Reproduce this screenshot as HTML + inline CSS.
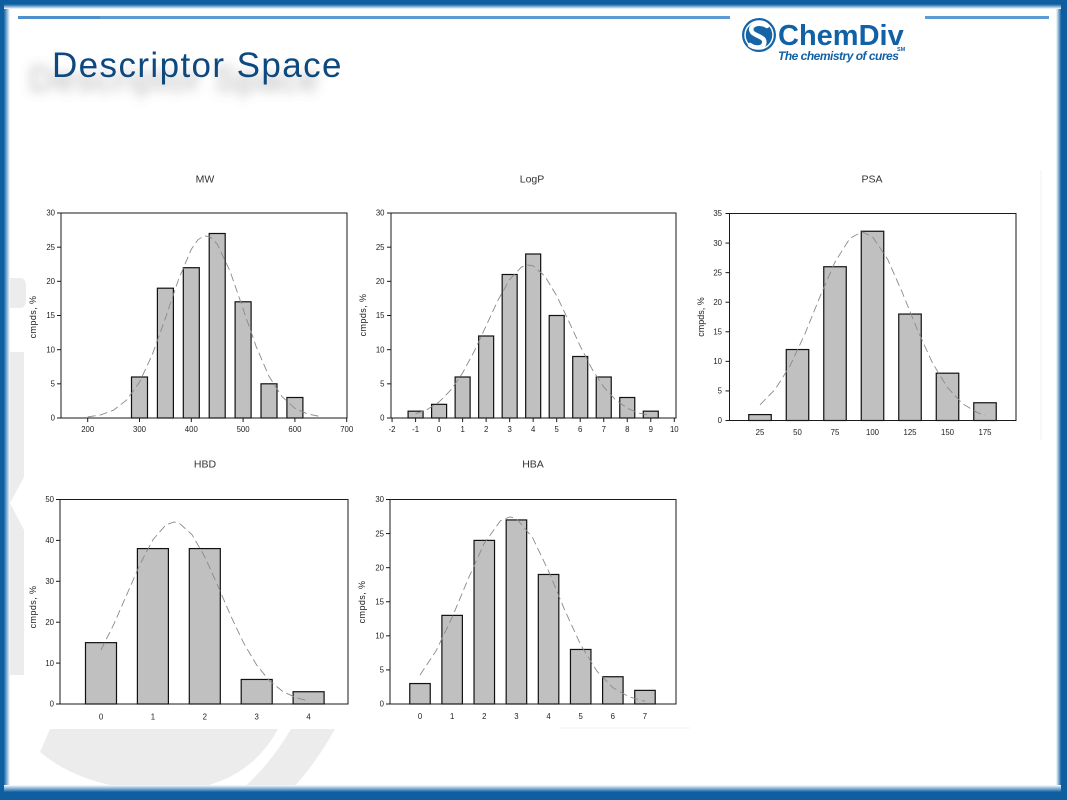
<!DOCTYPE html>
<html>
<head>
<meta charset="utf-8">
<style>
  html,body{margin:0;padding:0;background:#fff;}
  body{width:1067px;height:800px;overflow:hidden;}
  svg{display:block;}
  .ax{fill:none;stroke:#1a1a1a;stroke-width:1;}
  .tk{stroke:#1a1a1a;stroke-width:1;}
  .bar{fill:#c0c0c0;stroke:#111;stroke-width:1.2;}
  .fit{fill:none;stroke:#8a8a8a;stroke-width:0.9;stroke-dasharray:8 4;}
  .tl{font-family:"Liberation Sans",Arial,sans-serif;font-size:7.8px;fill:#222;}
  .ttl{font-family:"Liberation Sans",Arial,sans-serif;font-size:10.5px;fill:#333;text-anchor:middle;}
  .yl{font-family:"Liberation Sans",Arial,sans-serif;font-size:9px;fill:#222;text-anchor:middle;letter-spacing:0.4px;}
</style>
</head>
<body>
<svg width="1067" height="800" viewBox="0 0 1067 800" xmlns="http://www.w3.org/2000/svg">
  <defs>
    <linearGradient id="gL" x1="0" y1="0" x2="1" y2="0">
      <stop offset="0" stop-color="#0f5e9f"/>
      <stop offset="0.4" stop-color="#1769ab"/>
      <stop offset="1" stop-color="#ffffff"/>
    </linearGradient>
    <linearGradient id="gR" x1="1" y1="0" x2="0" y2="0">
      <stop offset="0" stop-color="#0f5e9f"/>
      <stop offset="0.55" stop-color="#1769ab"/>
      <stop offset="1" stop-color="#ffffff"/>
    </linearGradient>
    <linearGradient id="gT" x1="0" y1="0" x2="0" y2="1">
      <stop offset="0" stop-color="#0f5e9f"/>
      <stop offset="0.5" stop-color="#1769ab"/>
      <stop offset="1" stop-color="#ffffff"/>
    </linearGradient>
    <linearGradient id="gB" x1="0" y1="1" x2="0" y2="0">
      <stop offset="0" stop-color="#0f5e9f"/>
      <stop offset="0.55" stop-color="#1769ab"/>
      <stop offset="1" stop-color="#ffffff"/>
    </linearGradient>
    <filter id="sh" x="-20%" y="-60%" width="140%" height="220%">
      <feGaussianBlur in="SourceAlpha" stdDeviation="5.5" result="b"/>
      <feOffset in="b" dx="-23" dy="14" result="o"/>
      <feFlood flood-color="#6a6a6a" flood-opacity="0.5"/>
      <feComposite in2="o" operator="in" result="s"/>
      <feMerge><feMergeNode in="s"/><feMergeNode in="SourceGraphic"/></feMerge>
    </filter>
  </defs>

  <!-- watermark shapes -->
  <g fill="#ececec">
    <path d="M8 278 H20 Q26 278 26 286 V300 Q26 308 20 308 H8 Z"/>
    <path d="M8 352 H24 V477 L10 503 L24 530 V675 H8 Z"/>
    <path d="M50 729 H278 Q245 790 165 791 Q85 790 40 752 Z"/>
    <path d="M291 729 H335 Q315 765 290 791 H240 Q270 765 291 729 Z"/>
  </g>
  <g stroke="#f0f0f0" stroke-width="1">
    <line x1="1041" y1="170" x2="1041" y2="440"/>
    <line x1="560" y1="728" x2="690" y2="728"/>
  </g>

  <!-- border -->
  <rect x="0" y="0" width="10" height="800" fill="url(#gL)"/>
  <rect x="1056" y="0" width="11" height="800" fill="url(#gR)"/>
  <rect x="0" y="0" width="1067" height="9" fill="url(#gT)"/>
  <rect x="0" y="785" width="1067" height="15" fill="url(#gB)"/>
  <rect x="0" y="0" width="4" height="800" fill="#0f5e9f"/>
  <rect x="1061" y="0" width="6" height="800" fill="#0f5e9f"/>
  <rect x="0" y="0" width="1067" height="4" fill="#0f5e9f"/>
  <rect x="0" y="792" width="1067" height="8" fill="#0f5e9f"/>

  <!-- header lines -->
  <rect x="18" y="16" width="712" height="3" fill="#5d9bd3"/>
  <rect x="18" y="16" width="82" height="3" fill="#4f8fcb"/>
  <rect x="925" y="16" width="124" height="3" fill="#5d9bd3"/>

  <!-- title -->
  <text x="52" y="77" font-family="'Liberation Sans',Arial,sans-serif" font-size="35" letter-spacing="1.4" fill="#0b4a7e" filter="url(#sh)">Descriptor Space</text>

  <!-- logo -->
  <circle cx="759" cy="35" r="17" fill="#1564a8"/>
  <circle cx="759" cy="35" r="14" fill="none" stroke="#fff" stroke-width="1.5"/>
  <path d="M767 26 C757 20 747 27 753 33 C758 37 766 37 764 44 C762 49 754 48 750 45" fill="none" stroke="#fff" stroke-width="4.5" stroke-linecap="round"/>
  <text x="778" y="45" font-family="'Liberation Sans',Arial,sans-serif" font-size="29" font-weight="bold" fill="#1161a6" letter-spacing="0">ChemDiv</text>
  <text x="778" y="60" font-family="'Liberation Sans',Arial,sans-serif" font-size="12" font-weight="bold" font-style="italic" fill="#1161a6" letter-spacing="-0.5">The chemistry of cures</text>
  <text x="897" y="51" font-family="'Liberation Sans',Arial,sans-serif" font-size="5.5" font-weight="bold" fill="#1161a6">SM</text>

  <!-- ===== MW ===== -->
  <text class="ttl" x="205" y="182.5">MW</text>
  <text class="yl" transform="translate(36,317) rotate(-90)">cmpds, %</text>
  <g class="bar">
    <rect x="131.5" y="377" width="16" height="41"/>
    <rect x="157.4" y="288.2" width="16" height="129.8"/>
    <rect x="183.3" y="267.7" width="16" height="150.3"/>
    <rect x="209.2" y="233.5" width="16" height="184.5"/>
    <rect x="235.1" y="301.8" width="16" height="116.2"/>
    <rect x="261" y="383.8" width="16" height="34.2"/>
    <rect x="286.9" y="397.5" width="16" height="20.5"/>
  </g>
  <polyline class="fit" points="87.7,416.9 100.65,414.9 113.6,410.1 126.55,400.1 139.5,382.1 152.45,354.2 165.4,318.2 178.35,280 191.3,249.2 197.8,239.9 204.25,235.6 210.7,237.2 217.2,244.1 230.15,271.4 243.1,308.9 256.05,346.3 269,376.3 281.95,396.6 294.9,408.3 307.85,414.1 320.8,416.6"/>
  <rect class="ax" x="61" y="213" width="286" height="205"/>
  <g class="tk">
    <line x1="57" y1="418" x2="61" y2="418"/><line x1="57" y1="383.83" x2="61" y2="383.83"/><line x1="57" y1="349.67" x2="61" y2="349.67"/><line x1="57" y1="315.5" x2="61" y2="315.5"/><line x1="57" y1="281.33" x2="61" y2="281.33"/><line x1="57" y1="247.17" x2="61" y2="247.17"/><line x1="57" y1="213" x2="61" y2="213"/>
    <line x1="87.7" y1="418" x2="87.7" y2="422"/><line x1="139.5" y1="418" x2="139.5" y2="422"/><line x1="191.3" y1="418" x2="191.3" y2="422"/><line x1="243.1" y1="418" x2="243.1" y2="422"/><line x1="294.9" y1="418" x2="294.9" y2="422"/><line x1="346.7" y1="418" x2="346.7" y2="422"/>
  </g>
  <g class="tl" text-anchor="end">
    <text x="55" y="420.7">0</text><text x="55" y="386.5">5</text><text x="55" y="352.4">10</text><text x="55" y="318.2">15</text><text x="55" y="284">20</text><text x="55" y="249.9">25</text><text x="55" y="215.7">30</text>
  </g>
  <g class="tl" text-anchor="middle">
    <text x="87.7" y="432">200</text><text x="139.5" y="432">300</text><text x="191.3" y="432">400</text><text x="243.1" y="432">500</text><text x="294.9" y="432">600</text><text x="346.7" y="432">700</text>
  </g>

  <!-- ===== LogP ===== -->
  <text class="ttl" x="532" y="182.5">LogP</text>
  <text class="yl" transform="translate(366,315) rotate(-90)">cmpds, %</text>
  <g class="bar">
    <rect x="408.08" y="411.17" width="15" height="6.83"/>
    <rect x="431.6" y="404.33" width="15" height="13.67"/>
    <rect x="455.12" y="377" width="15" height="41"/>
    <rect x="478.64" y="336" width="15" height="82"/>
    <rect x="502.16" y="274.5" width="15" height="143.5"/>
    <rect x="525.68" y="254" width="15" height="164"/>
    <rect x="549.2" y="315.5" width="15" height="102.5"/>
    <rect x="572.72" y="356.5" width="15" height="61.5"/>
    <rect x="596.24" y="377" width="15" height="41"/>
    <rect x="619.76" y="397.5" width="15" height="20.5"/>
    <rect x="643.28" y="411.17" width="15" height="6.83"/>
  </g>
  <polyline class="fit" points="415.58,413.8 427.34,409.46 439.1,401.94 450.86,390 462.62,372.97 474.38,350.97 486.14,325.69 497.9,300.4 509.66,279.5 521.42,267.06 527.3,264.9 533.18,265.9 544.94,276.2 556.7,295.8 568.46,320.5 580.22,346.05 591.98,368.9 603.74,387.05 615.5,399.9 627.26,408.2 639.02,413.1 650.78,415.7"/>
  <rect class="ax" x="391" y="213" width="285" height="205"/>
  <g class="tk">
    <line x1="387" y1="418" x2="391" y2="418"/><line x1="387" y1="383.83" x2="391" y2="383.83"/><line x1="387" y1="349.67" x2="391" y2="349.67"/><line x1="387" y1="315.5" x2="391" y2="315.5"/><line x1="387" y1="281.33" x2="391" y2="281.33"/><line x1="387" y1="247.17" x2="391" y2="247.17"/><line x1="387" y1="213" x2="391" y2="213"/>
    <line x1="392.06" y1="418" x2="392.06" y2="422"/><line x1="415.58" y1="418" x2="415.58" y2="422"/><line x1="439.1" y1="418" x2="439.1" y2="422"/><line x1="462.62" y1="418" x2="462.62" y2="422"/><line x1="486.14" y1="418" x2="486.14" y2="422"/><line x1="509.66" y1="418" x2="509.66" y2="422"/><line x1="533.18" y1="418" x2="533.18" y2="422"/><line x1="556.7" y1="418" x2="556.7" y2="422"/><line x1="580.22" y1="418" x2="580.22" y2="422"/><line x1="603.74" y1="418" x2="603.74" y2="422"/><line x1="627.26" y1="418" x2="627.26" y2="422"/><line x1="650.78" y1="418" x2="650.78" y2="422"/><line x1="674.3" y1="418" x2="674.3" y2="422"/>
  </g>
  <g class="tl" text-anchor="end">
    <text x="384.5" y="420.7">0</text><text x="384.5" y="386.5">5</text><text x="384.5" y="352.4">10</text><text x="384.5" y="318.2">15</text><text x="384.5" y="284">20</text><text x="384.5" y="249.9">25</text><text x="384.5" y="215.7">30</text>
  </g>
  <g class="tl" text-anchor="middle">
    <text x="392.06" y="432">-2</text><text x="415.58" y="432">-1</text><text x="439.1" y="432">0</text><text x="462.62" y="432">1</text><text x="486.14" y="432">2</text><text x="509.66" y="432">3</text><text x="533.18" y="432">4</text><text x="556.7" y="432">5</text><text x="580.22" y="432">6</text><text x="603.74" y="432">7</text><text x="627.26" y="432">8</text><text x="650.78" y="432">9</text><text x="674.3" y="432">10</text>
  </g>

  <!-- ===== PSA ===== -->
  <text class="ttl" x="872" y="182.5">PSA</text>
  <text class="yl" transform="translate(704,317) rotate(-90)" style="letter-spacing:0">cmpds, %</text>
  <g class="bar">
    <rect x="748.75" y="414.59" width="22.5" height="5.91"/>
    <rect x="786.25" y="349.53" width="22.5" height="70.97"/>
    <rect x="823.75" y="266.74" width="22.5" height="153.76"/>
    <rect x="861.25" y="231.25" width="22.5" height="189.25"/>
    <rect x="898.75" y="314.05" width="22.5" height="106.45"/>
    <rect x="936.25" y="373.19" width="22.5" height="47.31"/>
    <rect x="973.75" y="402.76" width="22.5" height="17.74"/>
  </g>
  <polyline class="fit" points="760,404.77 775,389.57 790,365.8 805,333.68 820,296.72 835,262 850,238.23 862,231.85 872.5,236.76 887.5,259 902.5,292.99 917.5,330.13 932.5,362.96 947.5,387.62 962.5,403.59 977.5,412.69 985,415.41"/>
  <rect class="ax" x="729.5" y="213.5" width="286.5" height="207"/>
  <g class="tk">
    <line x1="725.5" y1="420.5" x2="729.5" y2="420.5"/><line x1="725.5" y1="390.93" x2="729.5" y2="390.93"/><line x1="725.5" y1="361.36" x2="729.5" y2="361.36"/><line x1="725.5" y1="331.79" x2="729.5" y2="331.79"/><line x1="725.5" y1="302.21" x2="729.5" y2="302.21"/><line x1="725.5" y1="272.64" x2="729.5" y2="272.64"/><line x1="725.5" y1="243.07" x2="729.5" y2="243.07"/><line x1="725.5" y1="213.5" x2="729.5" y2="213.5"/>
  </g>
  <g class="tl" text-anchor="end">
    <text x="722" y="423.2">0</text><text x="722" y="393.6">5</text><text x="722" y="364.1">10</text><text x="722" y="334.5">15</text><text x="722" y="304.9">20</text><text x="722" y="275.3">25</text><text x="722" y="245.8">30</text><text x="722" y="216.2">35</text>
  </g>
  <g class="tl" text-anchor="middle">
    <text x="760" y="435">25</text><text x="797.5" y="435">50</text><text x="835" y="435">75</text><text x="872.5" y="435">100</text><text x="910" y="435">125</text><text x="947.5" y="435">150</text><text x="985" y="435">175</text>
  </g>

  <!-- ===== HBD ===== -->
  <text class="ttl" x="205" y="467.5">HBD</text>
  <text class="yl" transform="translate(36,607) rotate(-90)">cmpds, %</text>
  <g class="bar">
    <rect x="85.5" y="642.65" width="31" height="61.35"/>
    <rect x="137.4" y="548.58" width="31" height="155.42"/>
    <rect x="189.3" y="548.58" width="31" height="155.42"/>
    <rect x="241.2" y="679.46" width="31" height="24.54"/>
    <rect x="293.1" y="691.73" width="31" height="12.27"/>
  </g>
  <polyline class="fit" points="101,649.93 113.98,623.96 126.95,594.22 139.93,564.49 152.9,539.75 165.88,524.82 174.18,522 178.85,522.9 191.83,534.39 204.8,556.84 217.78,585.68 230.75,615.86 243.73,643.18 256.7,665.1 269.68,680.97 282.65,691.36 295.63,697.58 308.6,700.97"/>
  <rect class="ax" x="60" y="499.5" width="288" height="204.5"/>
  <g class="tk">
    <line x1="56" y1="704" x2="60" y2="704"/><line x1="56" y1="663.1" x2="60" y2="663.1"/><line x1="56" y1="622.2" x2="60" y2="622.2"/><line x1="56" y1="581.3" x2="60" y2="581.3"/><line x1="56" y1="540.4" x2="60" y2="540.4"/><line x1="56" y1="499.5" x2="60" y2="499.5"/>
  </g>
  <g class="tl" text-anchor="end">
    <text x="54" y="706.7">0</text><text x="54" y="665.8">10</text><text x="54" y="624.9">20</text><text x="54" y="584">30</text><text x="54" y="543.1">40</text><text x="54" y="502.2">50</text>
  </g>
  <g class="tl" text-anchor="middle">
    <text x="101" y="719.5">0</text><text x="152.9" y="719.5">1</text><text x="204.8" y="719.5">2</text><text x="256.7" y="719.5">3</text><text x="308.6" y="719.5">4</text>
  </g>

  <!-- ===== HBA ===== -->
  <text class="ttl" x="533" y="467.5">HBA</text>
  <text class="yl" transform="translate(365,602) rotate(-90)">cmpds, %</text>
  <g class="bar">
    <rect x="409.75" y="683.55" width="20.5" height="20.45"/>
    <rect x="441.89" y="615.38" width="20.5" height="88.62"/>
    <rect x="474.03" y="540.4" width="20.5" height="163.6"/>
    <rect x="506.17" y="519.94" width="20.5" height="184.06"/>
    <rect x="538.31" y="574.48" width="20.5" height="129.52"/>
    <rect x="570.45" y="649.46" width="20.5" height="54.54"/>
    <rect x="602.59" y="676.73" width="20.5" height="27.27"/>
    <rect x="634.73" y="690.37" width="20.5" height="13.63"/>
  </g>
  <polyline class="fit" points="420,675 436.07,650.83 452.14,617.42 468.21,578.77 484.28,543.32 500.35,520.83 510,516.87 516.42,518.64 532.49,537.46 548.56,571.14 564.63,609.86 580.7,644.83 596.77,670.94 612.84,687.64 628.91,696.77 644.98,701.2"/>
  <rect class="ax" x="390" y="499.5" width="286" height="204.5"/>
  <g class="tk">
    <line x1="386" y1="704" x2="390" y2="704"/><line x1="386" y1="669.92" x2="390" y2="669.92"/><line x1="386" y1="635.83" x2="390" y2="635.83"/><line x1="386" y1="601.75" x2="390" y2="601.75"/><line x1="386" y1="567.67" x2="390" y2="567.67"/><line x1="386" y1="533.58" x2="390" y2="533.58"/><line x1="386" y1="499.5" x2="390" y2="499.5"/>
  </g>
  <g class="tl" text-anchor="end">
    <text x="384" y="706.7">0</text><text x="384" y="672.6">5</text><text x="384" y="638.5">10</text><text x="384" y="604.4">15</text><text x="384" y="570.4">20</text><text x="384" y="536.3">25</text><text x="384" y="502.2">30</text>
  </g>
  <g class="tl" text-anchor="middle">
    <text x="420" y="719">0</text><text x="452.14" y="719">1</text><text x="484.28" y="719">2</text><text x="516.42" y="719">3</text><text x="548.56" y="719">4</text><text x="580.7" y="719">5</text><text x="612.84" y="719">6</text><text x="644.98" y="719">7</text>
  </g>
</svg>
</body>
</html>
